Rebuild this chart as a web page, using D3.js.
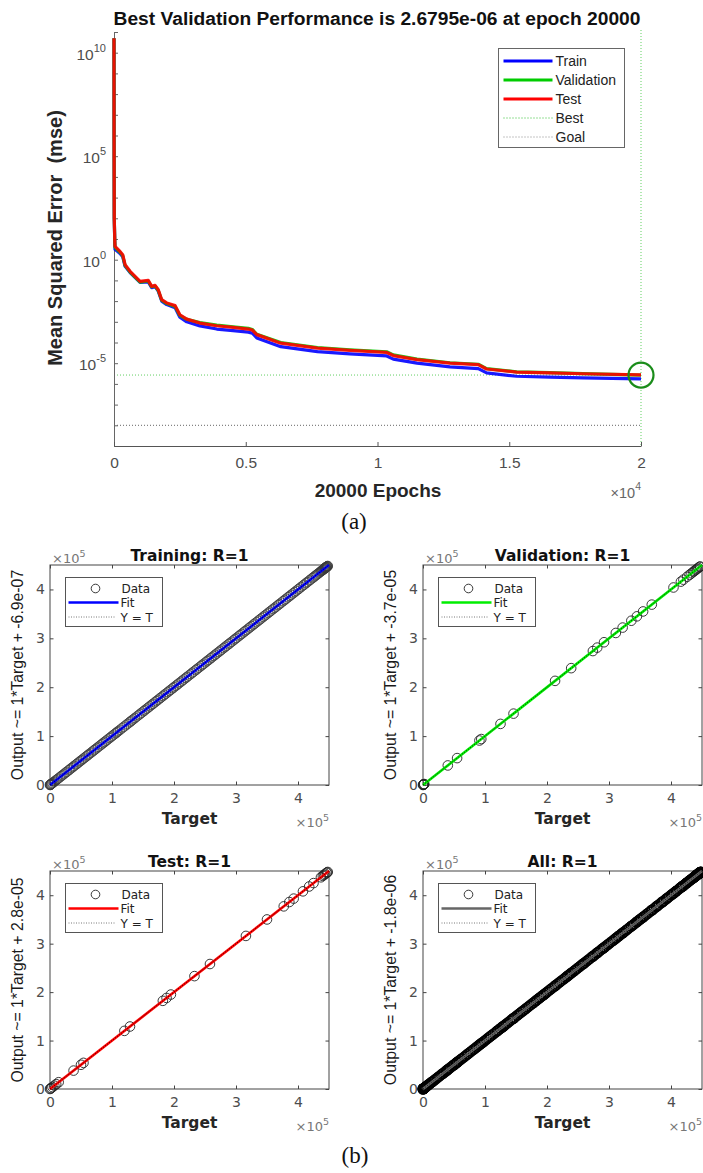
<!DOCTYPE html>
<html><head><meta charset="utf-8">
<script src="https://cdn.jsdelivr.net/npm/d3@7"></script>
<style>body{margin:0;background:#fff} svg{display:block}</style>
</head><body><svg id="c" width="703" height="1173"></svg>
<script>
// ---------------- DATA ----------------
// (a) performance curves
const epochs = [0,3,10,30,38,228,330,420,610,990,1300,1430,1560,1680,1810,2000,2320,2500,2760,3260,3900,4520,5100,5250,5420,6330,7720,8950,10350,10600,11500,12750,13825,14140,15280,16545,17800,20000];
const trainPerf = [5.0e10,1e6,100,6.31,3.16,2.0,1.41,0.479,0.24,0.0794,0.0851,0.0447,0.0501,0.0302,0.01,0.00676,0.00479,0.00166,0.001,6.31e-4,4.47e-4,3.72e-4,3.16e-4,2.82e-4,1.66e-4,6.31e-5,3.63e-5,2.82e-5,2.24e-5,1.58e-5,1.0e-5,6.61e-6,5.5e-6,3.39e-6,2.34e-6,2.14e-6,1.95e-6,1.74e-6];
const valPerf = [5.0e10,1e6,100,7.24,3.98,2.29,1.58,0.525,0.251,0.0832,0.0933,0.049,0.0537,0.0324,0.011,0.00759,0.0055,0.00204,0.00132,9.12e-4,6.92e-4,5.75e-4,4.79e-4,4.27e-4,2.51e-4,1.0e-4,5.75e-5,4.47e-5,3.55e-5,2.51e-5,1.58e-5,1.05e-5,8.91e-6,5.5e-6,3.8e-6,3.47e-6,3.16e-6,2.6795e-6];
const testPerf = [5.0e10,1e6,100,7.59,4.37,2.51,1.74,0.575,0.275,0.0891,0.1,0.0513,0.0575,0.0355,0.0117,0.00813,0.00603,0.00219,0.00135,8.7e-4,6.46e-4,5.37e-4,4.47e-4,3.98e-4,2.4e-4,9.3e-5,5.37e-5,4.17e-5,3.31e-5,2.34e-5,1.48e-5,1.0e-5,8.5e-6,5.25e-6,3.72e-6,3.39e-6,3.09e-6,2.75e-6];
const bestEpoch = 20000, bestPerf = 2.6795e-6, goalPerf = 1e-8;
const perfLegend = ["Train","Validation","Test","Best","Goal"];
const yDecadeLabels = [10,5,0,-5];
const xTicksA = [0,5000,10000,15000,20000];

// (b) regression targets (units of 1e5); outputs equal targets (R=1)
const trainTargets = [0,0.003,0.006,0.01,0.015,0.02,0.03,0.04,0.055,0.07,0.09,0.11,0.13,0.155,0.18,0.2,0.225,0.25,0.27,0.3,0.32,0.345,0.37,0.39,0.42,0.44,0.465,0.49,0.51,0.535,0.56,0.585,0.61,0.63,0.66,0.685,0.71,0.73,0.755,0.78,0.81,0.835,0.86,0.88,0.905,0.93,0.96,0.985,1.01,1.035,1.06,1.08,1.1,1.13,1.16,1.19,1.22,1.25,1.28,1.3,1.32,1.345,1.37,1.4,1.43,1.455,1.48,1.51,1.53,1.56,1.585,1.61,1.64,1.66,1.69,1.715,1.74,1.77,1.79,1.82,1.845,1.87,1.9,1.925,1.95,1.98,2.0,2.03,2.055,2.08,2.11,2.135,2.16,2.19,2.21,2.24,2.27,2.295,2.32,2.35,2.37,2.4,2.43,2.455,2.48,2.51,2.535,2.56,2.59,2.61,2.64,2.665,2.69,2.72,2.745,2.77,2.8,2.825,2.85,2.88,2.9,2.93,2.96,2.985,3.01,3.04,3.065,3.09,3.12,3.145,3.17,3.2,3.225,3.25,3.28,3.3,3.33,3.36,3.385,3.41,3.44,3.465,3.49,3.52,3.545,3.57,3.6,3.625,3.65,3.68,3.7,3.73,3.76,3.785,3.81,3.84,3.865,3.89,3.92,3.945,3.97,4.0,4.02,4.05,4.08,4.1,4.13,4.15,4.18,4.2,4.23,4.25,4.27,4.29,4.31,4.33,4.35,4.37,4.38,4.39,4.4,4.41,4.42,4.43,4.435,4.44,4.445,4.45,4.455,4.46,4.465,4.47,4.475,4.48];
const valTargets = [0,0.005,0.01,0.015,0.02,0.40,0.55,0.91,0.94,1.25,1.46,2.13,2.39,2.74,2.81,2.92,3.11,3.22,3.36,3.45,3.55,3.69,4.04,4.16,4.2,4.26,4.3,4.33,4.36,4.38,4.4,4.42,4.44,4.46,4.47];
const testTargets = [0,0.01,0.02,0.04,0.07,0.1,0.14,0.38,0.5,0.54,1.2,1.29,1.82,1.88,1.95,2.33,2.58,3.16,3.5,3.77,3.86,3.93,4.08,4.18,4.25,4.37,4.4,4.42,4.44,4.46,4.47,4.48];
const panelTitles = ["Training: R=1","Validation: R=1","Test: R=1","All: R=1"];
const fitOffsets = ["-6.9e-07","-3.7e-05","2.8e-05","-1.8e-06"];
const regLegend = ["Data","Fit","Y = T"];
const regTicks = [0,1,2,3,4];

// ---------------- DRAWING ----------------
const svg = d3.select('#c');
svg.append('rect').attr('width',703).attr('height',1173).attr('fill','#fff');
const SANS = '"Liberation Sans", Arial, Helvetica, sans-serif';
const WIDE = '"DejaVu Sans", Verdana, sans-serif';
const SERIF = '"Liberation Serif", "Times New Roman", serif';

// ---- (a) ----
const x = d3.scaleLinear().domain([0,20000]).range([114,641]);
const y = d3.scaleLog().domain([1e-9,1e11]).range([446,32]);
const A = svg.append('g');

// Best / Goal reference lines
A.append('line').attr('x1',x(0)).attr('x2',x(bestEpoch)).attr('y1',y(bestPerf)).attr('y2',y(bestPerf))
  .attr('stroke','#2fbf2f').attr('stroke-width',1).attr('stroke-dasharray','1,2').attr('opacity',0.75);
A.append('line').attr('x1',x(bestEpoch)).attr('x2',x(bestEpoch)).attr('y1',30).attr('y2',y(1e-9))
  .attr('stroke','#2fbf2f').attr('stroke-width',1).attr('stroke-dasharray','1,2').attr('opacity',0.75);
A.append('line').attr('x1',x(0)).attr('x2',x(bestEpoch)).attr('y1',y(goalPerf)).attr('y2',y(goalPerf))
  .attr('stroke','#666').attr('stroke-width',1).attr('stroke-dasharray','1,2');

// axes
const decades = d3.range(-9,12).map(k=>Math.pow(10,k));
const yAx = A.append('g').attr('transform',`translate(${x(0)},0)`)
  .call(d3.axisLeft(y).tickValues(decades).tickSize(-4).tickSizeOuter(0).tickFormat(''));
yAx.select('.domain').attr('stroke','#666');
yAx.selectAll('.tick line').attr('stroke','#666');
const xAx = A.append('g').attr('transform',`translate(0,${y(1e-9)})`)
  .call(d3.axisBottom(x).tickValues(xTicksA).tickSize(-4).tickSizeOuter(0).tickPadding(11).tickFormat(d=>d3.format('')(d/1e4)));
xAx.select('.domain').attr('stroke','#555');
xAx.selectAll('.tick line').attr('stroke','#555');
xAx.selectAll('text').attr('font-family',SANS).attr('font-size',15.5).attr('fill','#4d4d4d');

// y tick labels with superscripts
yDecadeLabels.forEach(k=>{
  const t = A.append('text').attr('x',106).attr('y',y(Math.pow(10,k))+7)
    .attr('text-anchor','end').attr('font-family',SANS).attr('font-size',15.5).attr('fill','#4d4d4d');
  t.append('tspan').text('10');
  t.append('tspan').attr('dy',-8).attr('font-size',11).text(String(k));
});
// x exponent
{
  const t = A.append('text').attr('x',641).attr('y',498).attr('text-anchor','end')
    .attr('font-family',SANS).attr('font-size',14.5).attr('fill','#666');
  t.append('tspan').text('\u00d710');
  t.append('tspan').attr('dy',-8).attr('font-size',10.5).text('4');
}

// curves
const line = d3.line().x((d,i)=>x(epochs[i])).y(d=>y(d));
[[trainPerf,'#0000ff'],[valPerf,'#00cc00'],[testPerf,'#ff0000']].forEach(([s,c])=>{
  A.append('path').datum(s).attr('d',line).attr('fill','none').attr('stroke',c)
    .attr('stroke-width',3.2).attr('stroke-linejoin','round').attr('opacity',0.9);
});
// best circle
A.append('circle').attr('cx',x(bestEpoch)).attr('cy',y(bestPerf)).attr('r',12.5)
  .attr('fill','none').attr('stroke','#1a8c1a').attr('stroke-width',2.2);

// titles
A.append('text').attr('x',377).attr('y',25).attr('text-anchor','middle').attr('font-family',SANS)
  .attr('font-weight','bold').attr('font-size',19.2).attr('fill','#111')
  .text(`Best Validation Performance is ${bestPerf.toExponential(4).replace('e-','e-0')} at epoch ${bestEpoch}`);
A.append('text').attr('x',378).attr('y',497).attr('text-anchor','middle').attr('font-family',SANS)
  .attr('font-weight','bold').attr('font-size',19).attr('fill','#262626').text(`${epochs[epochs.length-1]} Epochs`);
A.append('text').attr('transform','translate(62,238) rotate(-90)').attr('text-anchor','middle').attr('font-family',SANS)
  .attr('font-weight','bold').attr('font-size',20).attr('fill','#262626').attr('xml:space','preserve')
  .text('Mean Squared Error  (mse)');

// legend (a)
{
  const L = A.append('g').attr('transform','translate(498.5,48.5)');
  L.append('rect').attr('width',126).attr('height',99).attr('fill','#fff').attr('stroke','#666');
  const styles = [['#0000ff',3,null],['#00cc00',3,null],['#ff0000',3,null],['#2fbf2f',1,'1,2'],['#888',1,'1,2']];
  perfLegend.forEach((name,i)=>{
    const yy = 12.5 + i*19;
    L.append('line').attr('x1',5).attr('x2',54).attr('y1',yy).attr('y2',yy)
      .attr('stroke',styles[i][0]).attr('stroke-width',styles[i][1]).attr('stroke-dasharray',styles[i][2]);
    L.append('text').attr('x',57).attr('y',yy+5).attr('font-family',SANS).attr('font-size',14)
      .attr('fill','#222').text(name);
  });
}

// (a) caption
svg.append('text').attr('x',354).attr('y',529).attr('text-anchor','middle').attr('font-family',SERIF)
  .attr('font-size',23).attr('fill','#111').text('(a)');

// ---- (b) ----
function regPanel(o){
  const W = 279;
  const g = svg.append('g');
  const xs = d3.scaleLinear().domain([0,4.5]).range([o.left, o.left+W]);
  const ys = d3.scaleLinear().domain([0,4.5]).range([o.top+o.h, o.top]);
  const bottom = o.top+o.h;
  g.append('rect').attr('x',o.left).attr('y',o.top).attr('width',W).attr('height',o.h)
    .attr('fill','#fff').attr('stroke','#444').attr('stroke-width',1);
  const fmt = d3.format('d');
  const axB = g.append('g').attr('transform',`translate(0,${bottom})`)
    .call(d3.axisBottom(xs).tickValues(regTicks).tickSize(-3.5).tickSizeOuter(0).tickPadding(8).tickFormat(fmt));
  const axT = g.append('g').attr('transform',`translate(0,${o.top})`)
    .call(d3.axisTop(xs).tickValues(regTicks).tickSize(-3.5).tickSizeOuter(0).tickFormat(''));
  const axL = g.append('g').attr('transform',`translate(${o.left},0)`)
    .call(d3.axisLeft(ys).tickValues(regTicks).tickSize(-3.5).tickSizeOuter(0).tickPadding(5).tickFormat(fmt));
  const axR = g.append('g').attr('transform',`translate(${o.left+W},0)`)
    .call(d3.axisRight(ys).tickValues(regTicks).tickSize(-3.5).tickSizeOuter(0).tickFormat(''));
  [axB,axT,axL,axR].forEach(a=>{a.select('.domain').remove(); a.selectAll('.tick line').attr('stroke','#444');});
  [axB,axL].forEach(a=>a.selectAll('text').attr('font-family',WIDE).attr('font-size',14).attr('fill','#4d4d4d'));

  // data circles
  g.append('g').selectAll('circle').data(o.targets).join('circle')
    .attr('cx',d=>xs(d)).attr('cy',d=>ys(d)).attr('r',4.8)
    .attr('fill','none').attr('stroke',o.markerColor).attr('stroke-width',o.markerWidth);
  // fit
  g.append('line').attr('x1',xs(0)).attr('y1',ys(0)).attr('x2',xs(4.5)).attr('y2',ys(4.5))
    .attr('stroke',o.color).attr('stroke-width',2.6);
  // Y = T
  g.append('line').attr('x1',xs(0)).attr('y1',ys(0)).attr('x2',xs(4.5)).attr('y2',ys(4.5))
    .attr('stroke','#000').attr('stroke-width',0.8).attr('stroke-dasharray','1,1.5');

  // legend
  const L = g.append('g').attr('transform',`translate(${o.left+15.5},${o.top+12.5})`);
  L.append('rect').attr('width',97).attr('height',49).attr('fill','#fff').attr('stroke','#555');
  L.append('circle').attr('cx',30).attr('cy',11).attr('r',4.3).attr('fill','none').attr('stroke','#222').attr('stroke-width',0.9);
  L.append('line').attr('x1',3).attr('x2',53).attr('y1',25).attr('y2',25).attr('stroke',o.color).attr('stroke-width',2.6);
  L.append('line').attr('x1',3).attr('x2',50).attr('y1',39.5).attr('y2',39.5).attr('stroke','#555').attr('stroke-width',0.8).attr('stroke-dasharray','1,1.5');
  regLegend.forEach((t,i)=>{
    L.append('text').attr('x',i===0?56:55).attr('y',[15.5,29.5,44][i]).attr('font-family',WIDE).attr('font-size',12)
      .attr('fill','#222').text(t);
  });

  // texts
  g.append('text').attr('x',o.left+W/2).attr('y',o.top-4).attr('text-anchor','middle').attr('font-family',WIDE)
    .attr('font-weight','bold').attr('font-size',15.5).attr('fill','#111').text(o.title);
  g.append('text').attr('x',o.left+W/2).attr('y',bottom+39).attr('text-anchor','middle').attr('font-family',WIDE)
    .attr('font-weight','bold').attr('font-size',15.5).attr('fill','#262626').text('Target');
  const e1 = g.append('text').attr('x',o.left+2).attr('y',o.top-2).attr('font-family',WIDE).attr('font-size',13).attr('fill','#777');
  e1.append('tspan').text('\u00d710'); e1.append('tspan').attr('dy',-6).attr('font-size',9.5).text('5');
  const e2 = g.append('text').attr('x',o.left+W).attr('y',bottom+42).attr('text-anchor','end').attr('font-family',WIDE).attr('font-size',13).attr('fill','#777');
  e2.append('tspan').text('\u00d710'); e2.append('tspan').attr('dy',-6).attr('font-size',9.5).text('5');
  g.append('text').attr('transform',`translate(${o.left-27},${o.top+o.h/2}) rotate(-90)`).attr('text-anchor','middle')
    .attr('font-family',SANS).attr('font-size',15.8).attr('fill','#1a1a1a')
    .text(`Output ~= 1*Target + ${o.offset}`);
}

const allTargets = trainTargets.concat(valTargets, testTargets);
regPanel({left:50, top:565, h:220, targets:trainTargets, color:'#0000ff', title:panelTitles[0], offset:fitOffsets[0], markerColor:'#3a3a3a', markerWidth:0.8});
regPanel({left:423, top:565, h:220, targets:valTargets, color:'#00ee00', title:panelTitles[1], offset:fitOffsets[1], markerColor:'#222', markerWidth:0.9});
regPanel({left:50, top:871, h:218, targets:testTargets, color:'#ff0000', title:panelTitles[2], offset:fitOffsets[2], markerColor:'#222', markerWidth:0.9});
regPanel({left:423, top:871, h:218, targets:allTargets, color:'#666666', title:panelTitles[3], offset:fitOffsets[3], markerColor:'#000', markerWidth:1.4});

svg.append('text').attr('x',355).attr('y',1163).attr('text-anchor','middle').attr('font-family',SERIF)
  .attr('font-size',23).attr('fill','#111').text('(b)');
</script></body></html>
